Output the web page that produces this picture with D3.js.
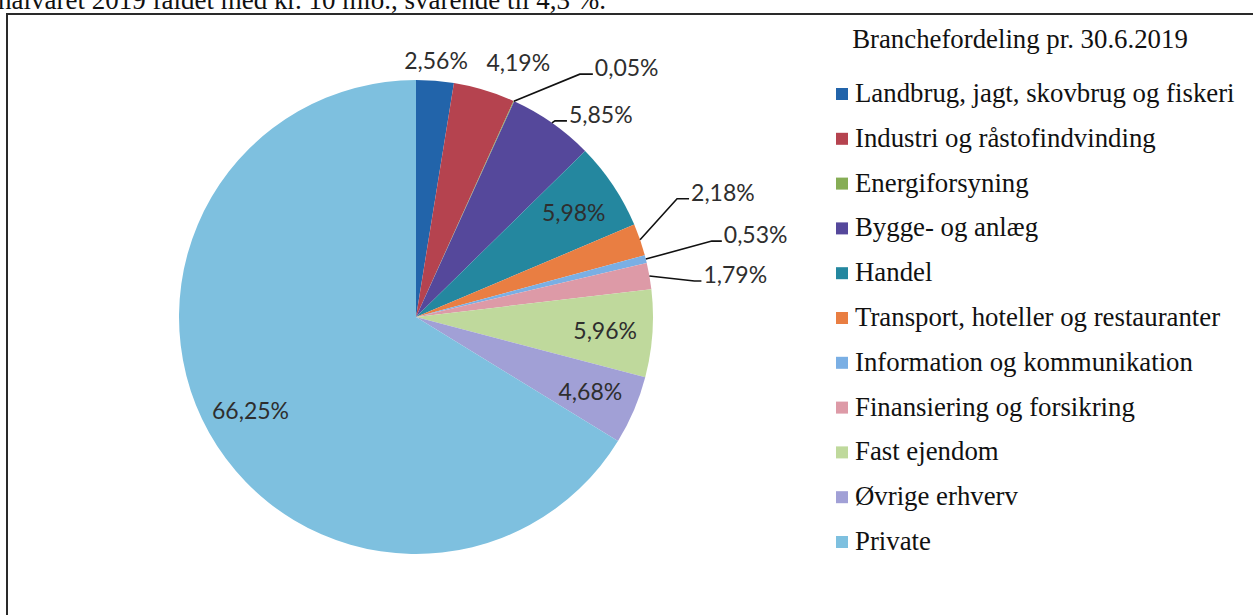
<html>
<head>
  <meta charset="utf-8">
  <script src="https://d3js.org/d3.v7.min.js"></script>
  <style>
    body { margin:0; background:white; }
  </style>
  <script>
    // data
    var categories = [ "Landbrug, jagt, skovbrug og fiskeri", "Industri og råstofindvinding", "Energiforsyning",
                       "Bygge- og anlæg", "Handel", "Transport, hoteller og restauranter", "Information og kommunikation",
                       "Finansiering og forsikring", "Fast ejendom", "Øvrige erhverv", "Private" ];
    var shares = [ 2.56, 4.19, 0.05, 5.85, 5.98, 2.18, 0.53, 1.79, 5.96, 4.68, 66.25 ];
    var shareLabels = [ "2,56%", "4,19%", "0,05%", "5,85%", "5,98%", "2,18%", "0,53%", "1,79%", "5,96%", "4,68%", "66,25%" ];
    var colors = [ "#2264aa", "#b5434f", "#86ad55", "#55489b", "#24879f", "#e97e42", "#7aafe4", "#dd9aa7", "#bfd99c", "#a1a0d6", "#7ec0df" ];
    var title = "Branchefordeling pr. 30.6.2019";
    var headline = "halvåret 2019 faldet med kr. 10 mio., svarende til 4,3 %.";

    // label placement: offsets from the slice's outer edge point
    var placement = [
        { type:"free", dx:1, dy:-21 },
        { type:"free", dx:34, dy:-28 },
        { type:"lead", ex:66, ey:-27, len:13 },
        { type:"lead", ex:3, ey:-2, len:12 },
        { type:"in" },
        { type:"lead", ex:37, ey:-41, len:12 },
        { type:"lead", ex:66, ey:-18, len:10 },
        { type:"lead", ex:45, ey:5, len:7 },
        { type:"in" },
        { type:"in" },
        { type:"in" }
    ];

    var serif = "'Liberation Serif', 'Times New Roman', serif"

    function makePie() {
        var svg = d3.select( "#chart" )
        var cx = 416, cy = 317, r = 237

        // last line of the page text above the figure, cut off by the scan
        svg.append( "text" ).attr( "x", -2 ).attr( "y", 9 )
            .attr( "font-family", serif ).attr( "font-size", 27 ).attr( "fill", "#111" )
            .text( headline )

        // frame of the figure (scan shows only top and left edges)
        svg.append( "path" ).attr( "d", "M7,615 L7,14 L1253,14" )
            .attr( "fill", "none" ).attr( "stroke", "#2a2a2a" ).attr( "stroke-width", 2 )

        var pie = d3.pie().sort( null ).value( d=>d )
        var arcs = pie( shares )
        var arc = d3.arc().innerRadius( 0 ).outerRadius( r )
        var edge = d3.arc().innerRadius( r ).outerRadius( r )
        var inner = d3.arc().innerRadius( r*0.8 ).outerRadius( r*0.8 )

        var g = svg.append( "g" ).attr( "transform", `translate(${cx},${cy})` )
        g.selectAll( "path" ).data( arcs ).enter().append( "path" )
            .attr( "d", arc ).attr( "fill", (d,i) => colors[i] )

        arcs.forEach( (d,i) => {
            var p = placement[i]
            var lab = g.append( "text" ).attr( "font-family", "Lato" ).attr( "font-size", 23 )
                .attr( "fill", "#2e2e2e" ).text( shareLabels[i] )
            if( p.type == "in" ) {
                var c = inner.centroid( d )
                lab.attr( "x", c[0] ).attr( "y", c[1] ).attr( "text-anchor", "middle" ).attr( "dominant-baseline", "central" )
            } else if( p.type == "free" ) {
                var e = edge.centroid( d )
                lab.attr( "x", e[0]+p.dx ).attr( "y", e[1]+p.dy ).attr( "text-anchor", "middle" ).attr( "dominant-baseline", "central" )
            } else {
                var e = edge.centroid( d )
                var bx = e[0]+p.ex, by = e[1]+p.ey
                g.append( "polyline" ).attr( "points", [ e, [bx,by], [bx+p.len,by] ].map( q=>q.join(",") ).join(" ") )
                    .attr( "fill", "none" ).attr( "stroke", "#111" ).attr( "stroke-width", 1.6 )
                lab.attr( "x", bx+p.len+2 ).attr( "y", by+2 )
            }
        } )

        // legend
        var lx = 836, ly = 94, step = 44.8
        svg.append( "text" ).attr( "x", 1020 ).attr( "y", 48 ).attr( "text-anchor", "middle" )
            .attr( "font-family", serif ).attr( "font-size", 26.8 ).attr( "fill", "#111" )
            .text( title )
        var leg = svg.selectAll( "g.leg" ).data( categories ).enter().append( "g" ).attr( "class", "leg" )
            .attr( "transform", (d,i) => `translate(${lx},${ly + i*step})` )
        leg.append( "rect" ).attr( "x", 0 ).attr( "y", -6 ).attr( "width", 12 ).attr( "height", 12 )
            .attr( "fill", (d,i) => colors[i] )
        leg.append( "text" ).attr( "x", 19 ).attr( "y", 8 )
            .attr( "font-family", serif ).attr( "font-size", 26.8 ).attr( "fill", "#111" )
            .text( d=>d )
    }
  </script>
</head>

<body onload="makePie()">
    <svg id="chart" width="1253" height="615" style="display:block"></svg>
</body>
</html>
